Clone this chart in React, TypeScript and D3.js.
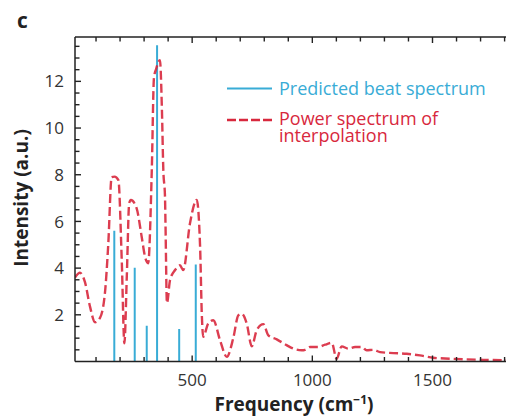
import React from "react";
import * as d3 from "d3";

// Power spectrum of interpolation (red dashed)
const powerFreq = [12.5, 33, 54, 75, 96, 116, 137, 151, 165, 177, 193, 207, 218, 228, 238, 245, 269, 290, 304, 317, 332, 341, 350, 366, 374, 380, 387, 389, 395, 408, 429, 449, 463, 491, 519, 533, 540, 546, 567, 588, 616, 644, 671, 692, 706, 727, 748, 769, 796, 817, 852, 893, 921, 956, 970, 990, 1025, 1053, 1081, 1101, 1122, 1150, 1178, 1206, 1226, 1254, 1282, 1337, 1393, 1448, 1503, 1573, 1642, 1712, 1810];
const powerVal = [3.6, 3.8, 3.4, 2.35, 1.68, 1.86, 2.93, 5.04, 7.9, 7.92, 7.77, 4.35, 0.78, 3.63, 6.78, 6.92, 6.56, 5.34, 4.48, 4.21, 8.2, 12.14, 12.53, 12.91, 10.85, 8.2, 7.05, 5.92, 2.5, 3.49, 3.92, 4.12, 3.92, 5.92, 6.92, 4.92, 2.06, 1.06, 1.63, 1.77, 0.91, 0.2, 1.0, 1.98, 2.05, 1.63, 0.65, 1.35, 1.6, 1.12, 0.95, 0.7, 0.55, 0.48, 0.5, 0.62, 0.62, 0.72, 0.8, 0.11, 0.65, 0.55, 0.62, 0.62, 0.48, 0.5, 0.4, 0.36, 0.33, 0.26, 0.16, 0.12, 0.09, 0.07, 0.05];

// Predicted beat spectrum (blue sticks)
const stickFreq = [176, 261, 311, 354, 446, 515];
const stickVal = [5.6, 4.02, 1.53, 13.55, 1.39, 4.16];

const xTickLabels = [500, 1000, 1500];
const yTickLabels = [2, 4, 6, 8, 10, 12];

const BLUE = "#39acd6";
const RED = "#d8283d";
const AXIS = "#222";
const FONT = "'Open Sans', 'DejaVu Sans', sans-serif";

export default function App() {
  const left = 75, right = 507, top = 37, bottom = 361.5;
  const x = d3.scaleLinear().domain([12.5, 1810]).range([left, right]);
  const y = d3.scaleLinear().domain([0, 13.9]).range([bottom, top]);

  const pts: [number, number][] = powerFreq.map((f, i) => [f, powerVal[i]]);
  const line = d3
    .line<[number, number]>()
    .x((d) => x(d[0]))
    .y((d) => y(d[1]))
    .curve(d3.curveMonotoneX);

  const xMinor = d3.range(100, 1801, 100);
  const yMinor = d3.range(0.5, 13.9, 0.5);

  return (
    <svg
      width={506}
      height={417}
      style={{ position: "absolute", left: 0, top: 0, background: "#fff" }}
      fontFamily={FONT}
    >
      <defs>
        <clipPath id="plot">
          <rect x={left} y={top - 5} width={right - left} height={bottom - top + 5} />
        </clipPath>
      </defs>

      {/* panel label */}
      <text x={17} y={28} fontSize={21} fontWeight="bold" fill={AXIS}>c</text>

      {/* sticks */}
      <g clipPath="url(#plot)">
        {stickFreq.map((f, i) => (
          <line
            key={i}
            x1={x(f)}
            x2={x(f)}
            y1={y(0)}
            y2={y(stickVal[i])}
            stroke={BLUE}
            strokeWidth={2}
          />
        ))}
        <path
          d={line(pts) || ""}
          fill="none"
          stroke={RED}
          strokeWidth={2.4}
          strokeDasharray="9,4"
          opacity={0.9}
        />
      </g>

      {/* spines */}
      <line x1={left} x2={right} y1={top} y2={top} stroke={AXIS} strokeWidth={1.5} />
      <line x1={left} x2={right} y1={bottom} y2={bottom} stroke={AXIS} strokeWidth={1.5} />
      <line x1={left} x2={left} y1={top} y2={bottom} stroke={AXIS} strokeWidth={1.5} />

      {/* x ticks */}
      {xMinor.map((t) => {
        const len = xTickLabels.includes(t) ? 6 : 4.5;
        return (
          <g key={"xt" + t}>
            <line x1={x(t)} x2={x(t)} y1={bottom} y2={bottom - len} stroke={AXIS} strokeWidth={1.4} />
            <line x1={x(t)} x2={x(t)} y1={top} y2={top + len} stroke={AXIS} strokeWidth={1.4} />
          </g>
        );
      })}
      {xTickLabels.map((t) => (
        <text key={"xl" + t} x={x(t)} y={386} textAnchor="middle" fontSize={17} fill="#333">
          {t}
        </text>
      ))}

      {/* y ticks */}
      {yMinor.map((t) => {
        const len = Number.isInteger(t) && t % 2 === 0 ? 6 : 4.5;
        return (
          <line key={"yt" + t} x1={left} x2={left + len} y1={y(t)} y2={y(t)} stroke={AXIS} strokeWidth={1.4} />
        );
      })}
      {yTickLabels.map((t) => (
        <text key={"yl" + t} x={64} y={y(t)} dy="0.36em" textAnchor="end" fontSize={17} fill="#333">
          {t}
        </text>
      ))}

      {/* axis titles */}
      <text x={294} y={411} textAnchor="middle" fontSize={19} fontWeight="bold" fill={AXIS}>
        Frequency (cm
        <tspan fontSize={12} dy={-7}>−1</tspan>
        <tspan dy={7}>)</tspan>
      </text>
      <text
        transform="translate(28,198) rotate(-90)"
        textAnchor="middle"
        fontSize={19}
        fontWeight="bold"
        fill={AXIS}
      >
        Intensity (a.u.)
      </text>

      {/* legend */}
      <line x1={227} x2={272} y1={88.5} y2={88.5} stroke={BLUE} strokeWidth={1.8} />
      <text x={279} y={95} fontSize={18} fill={BLUE}>Predicted beat spectrum</text>
      <line x1={227} x2={272} y1={120} y2={120} stroke={RED} strokeWidth={2.6} strokeDasharray="9,3" />
      <text x={279} y={125} fontSize={18} fill={RED}>
        <tspan x={279}>Power spectrum of</tspan>
        <tspan x={279} dy={17}>interpolation</tspan>
      </text>
    </svg>
  );
}
